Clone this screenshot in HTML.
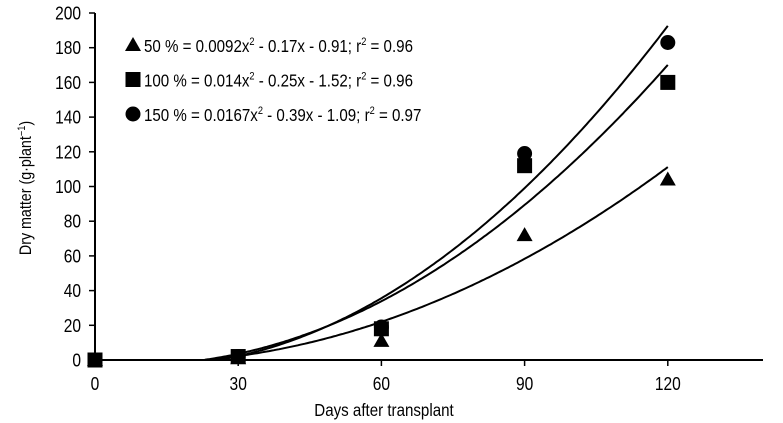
<!DOCTYPE html>
<html><head><meta charset="utf-8"><style>
body{margin:0;background:#fff;}
svg{display:block;font-family:"Liberation Sans",sans-serif;}
</style></head><body>
<svg id="chart" width="783" height="423"></svg>
<script>
const days=[0,30,60,90,120];
const s50=[0,1,11,72,104];
const s100=[0,2,18,112,160];
const s150=[0,2,19,119,183];
const coef50=[0.0092,-0.17,-0.91];
const coef100=[0.014,-0.25,-1.52];
const coef150=[0.0167,-0.39,-1.09];
const xTicks=[0,30,60,90,120];
const yTicks=[0,20,40,60,80,100,120,140,160,180,200];
const legendText=["50 % = 0.0092x","100 % = 0.014x","150 % = 0.0167x"];
const legendRest=[" - 0.17x - 0.91; r"," - 0.25x - 1.52; r"," - 0.39x - 1.09; r"];
const legendR2=[" = 0.96"," = 0.96"," = 0.97"];

const NS="http://www.w3.org/2000/svg";
const svg=document.getElementById('chart');
const X0=95,XPX=143.2/30,Y0=360,YPX=347/200;
const SX=0.84;
const xs=v=>X0+v*XPX, ys=v=>Y0-v*YPX;
function mk(t,a,p){const e=document.createElementNS(NS,t);for(const k in a)e.setAttribute(k,a[k]);(p||svg).appendChild(e);return e;}
function txt(x,y,anchor,size,extra,p){return mk('text',{x:0,y:0,'text-anchor':anchor,'font-size':size,transform:`translate(${x},${y}) ${extra||''} scale(${SX},1)`},p);}

let ax=mk('line',{x1:X0,y1:ys(200),x2:X0,y2:Y0,stroke:'#000','stroke-width':2});


ax=mk('line',{x1:X0,y1:Y0,x2:763,y2:Y0,stroke:'#000','stroke-width':2});


yTicks.forEach(v=>{
  mk('line',{x1:X0-6,y1:ys(v),x2:X0,y2:ys(v),stroke:'#000','stroke-width':1.5});
  const t=txt(X0-14,ys(v)+6.5,'end',18.5);
  t.textContent=v;
  
  
});
xTicks.forEach(v=>{
  mk('line',{x1:xs(v),y1:Y0,x2:xs(v),y2:Y0+6,stroke:'#000','stroke-width':1.5});
  const t=txt(xs(v),Y0+30,'middle',18.5);
  t.textContent=v;
  
  
});
let xt=txt(384,416,'middle',18);
xt.textContent='Days after transplant';


let yt=txt(31,188,'middle',17,'rotate(-90)');
yt.innerHTML='Dry matter (g·plant<tspan dy="-6" font-size="11">−1</tspan><tspan dy="6">)</tspan>';



[[coef50,'curve-50'],[coef100,'curve-100'],[coef150,'curve-150']].forEach(([c,n])=>{
  let pts=[];
  for(let d=0;d<=120;d+=0.5){const y=c[0]*d*d+c[1]*d+c[2];if(y>=0)pts.push(xs(d).toFixed(1)+','+ys(y).toFixed(1));}
  const p=mk('polyline',{points:pts.join(' '),fill:'none',stroke:'#000','stroke-width':2});
  
  
});

function marker(type,cx,cy,g){
  if(type==='tri') return mk('polygon',{points:`${cx},${cy-8} ${cx-8},${cy+6} ${cx+8},${cy+6}`,fill:'#000'},g);
  if(type==='sq') return mk('rect',{x:cx-7.5,y:cy-7.5,width:15,height:15,fill:'#000'},g);
  return mk('circle',{cx:cx,cy:cy,r:7.5,fill:'#000'},g);
}
[[s150,'circ','points-150'],[s100,'sq','points-100'],[s50,'tri','points-50']].forEach(([s,t,n])=>{
  s.forEach((v,i)=>{
    const m=marker(t,xs(days[i]),ys(v));
    
    
  });
});

['tri','sq','circ'].forEach((t,i)=>{
  const y=45+i*34.5;
  const g=mk('g',{});
  
  
  marker(t,133,y,g);
  const tx=txt(144,y+7,'start',18,'',g);
  tx.innerHTML=legendText[i]+'<tspan dy="-7" font-size="11">2</tspan><tspan dy="7">'+legendRest[i]+'</tspan><tspan dy="-7" font-size="11">2</tspan><tspan dy="7">'+legendR2[i]+'</tspan>';
});
</script>
</body></html>
